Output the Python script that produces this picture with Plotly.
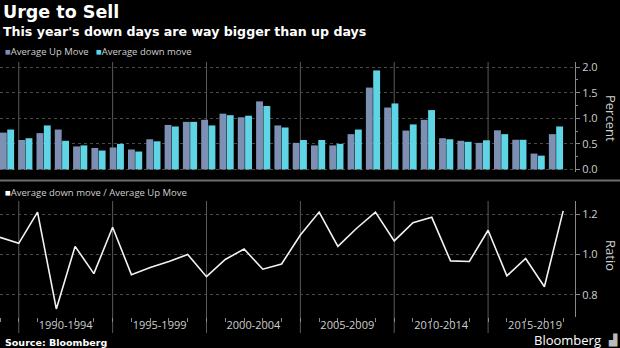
import plotly.graph_objects as go

years = list(range(1989, 2020))
up_move = [0.72, 0.575, 0.71, 0.78, 0.45, 0.42, 0.43, 0.39, 0.59, 0.87, 0.93,
           0.97, 1.09, 1.02, 1.33, 0.86, 0.52, 0.47, 0.47, 0.69, 1.60,
           1.21, 0.76, 0.97, 0.61, 0.56, 0.52, 0.765, 0.58, 0.31, 0.69]
down_move = [0.78, 0.61, 0.86, 0.56, 0.47, 0.37, 0.50, 0.35, 0.55, 0.84, 0.93,
             0.86, 1.06, 1.05, 1.24, 0.82, 0.575, 0.575, 0.50, 0.78, 1.935,
             1.29, 0.88, 1.16, 0.59, 0.54, 0.57, 0.69, 0.58, 0.27, 0.84]
ratio = [1.085, 1.055, 1.21, 0.73, 1.04, 0.905, 1.135, 0.90, 0.935, 0.965, 1.0,
         0.89, 0.975, 1.027, 0.927, 0.953, 1.096, 1.21, 1.04, 1.13, 1.21,
         1.067, 1.157, 1.184, 0.968, 0.965, 1.12, 0.894, 0.98, 0.84, 1.216]
group_bounds = [1990, 1995, 2000, 2005, 2010, 2015]
group_labels = ["1990-1994", "1995-1999", "2000-2004", "2005-2009", "2010-2014", "2015-2019"]

UP_C = "#7d8fb3"
DOWN_C = "#5ed4e4"
FONT = "Open Sans"
TFONT = "DejaVu Sans"

W, H = 620, 348
ML, MR, MT, MB = 0, 45, 62, 31
PW, PH = W - ML - MR, H - MT - MB


def py(pix):  # pixel y -> paper y
    return (H - MB - pix) / PH


def px(pix):  # pixel x -> paper x
    return (pix - ML) / PW


fig = go.Figure()
fig.add_trace(go.Bar(x=years, y=up_move, name="Average Up Move", marker_color=UP_C,
                     marker_line_width=0, xaxis="x", yaxis="y", showlegend=False))
fig.add_trace(go.Bar(x=years, y=down_move, name="Average down move", marker_color=DOWN_C,
                     marker_line_width=0, xaxis="x", yaxis="y", showlegend=False))
fig.add_trace(go.Scatter(x=years, y=ratio, mode="lines", line=dict(color="#f2f2f2", width=1.6),
                         xaxis="x2", yaxis="y2", showlegend=False))
# invisible trace to carry the group label axis
fig.add_trace(go.Scatter(x=[g + 2.5 for g in group_bounds], y=[None] * len(group_bounds),
                         xaxis="x3", yaxis="y2", showlegend=False, hoverinfo="skip"))

top_dom = [py(172), 1.0]
bot_dom = [0.0, py(201)]

shapes = []
for g in group_bounds:
    shapes.append(dict(type="line", xref="x2", yref="paper", x0=g, x1=g, y0=py(333), y1=py(201),
                       line=dict(color="#5a5a5a", width=1), layer="below"))
    shapes.append(dict(type="line", xref="x2", yref="paper", x0=g, x1=g, y0=py(170), y1=py(62),
                       line=dict(color="#5a5a5a", width=1), layer="below"))
shapes.append(dict(type="line", xref="paper", yref="paper", x0=px(0), x1=px(W), y0=py(180.5), y1=py(180.5),
                   line=dict(color="#6e6e6e", width=2)))

grid = dict(showgrid=True, gridcolor="#4a4a4a", griddash="dot", gridwidth=1)
yfont = dict(family=FONT, size=11, color="#cfcfcf")

fig.update_layout(
    width=W, height=H,
    margin=dict(l=ML, r=MR, t=MT, b=MB),
    paper_bgcolor="black", plot_bgcolor="black",
    barmode="group", bargap=0.2, bargroupgap=0.06,
    font=dict(family=FONT, color="#cfcfcf"),
    xaxis=dict(domain=[0, 1], anchor="y", range=[1988.617, 2020.04], showgrid=False,
               showticklabels=False, ticks="", zeroline=False),
    yaxis=dict(domain=top_dom, anchor="x", side="right", range=[-0.05, 2.1],
               tickvals=[0, 0.5, 1.0, 1.5, 2.0], tickformat=".1f", ticks="outside", ticklen=4,
               tickcolor="#8a8a8a", showline=True, linecolor="#8a8a8a", zeroline=False,
               tickfont=yfont, minor=dict(ticks="outside", ticklen=2, dtick=0.25, tickcolor="#8a8a8a", showgrid=False),
               **grid),
    xaxis2=dict(domain=[0, 1], anchor="y2", range=[1989, 2019.63], showgrid=False, zeroline=False,
                tickvals=years, ticktext=[""] * len(years), ticks="outside", ticklen=4,
                tickcolor="#8a8a8a", showline=False),
    xaxis3=dict(domain=[0, 1], anchor="y2", overlaying="x2", range=[1989, 2019.63], showgrid=False,
                zeroline=False, tickvals=[g + 2.5 for g in group_bounds], ticktext=group_labels,
                ticks="", side="bottom", tickfont=dict(family=FONT, size=11, color="#cfcfcf")),
    yaxis2=dict(domain=bot_dom, anchor="x2", side="right", range=[0.69, 1.265],
                tickvals=[0.8, 1.0, 1.2], tickformat=".1f", ticks="outside", ticklen=4,
                tickcolor="#8a8a8a", showline=True, linecolor="#8a8a8a", zeroline=False,
                tickfont=yfont, **grid),
    shapes=shapes,
)

ann = [
    dict(text="<b>Urge to Sell</b>", x=px(1), y=py(0), xanchor="left", yanchor="top",
         font=dict(family=TFONT, size=17.5, color="white")),
    dict(text="<b>This year's down days are way bigger than up days</b>", x=px(1), y=py(22),
         xanchor="left", yanchor="top", font=dict(family=TFONT, size=12.6, color="white")),
    dict(text=f'<span style="color:{UP_C}">■</span>Average Up Move   '
              f'<span style="color:{DOWN_C}">■</span>Average down move',
         x=px(3), y=py(52), xanchor="left", yanchor="middle",
         font=dict(family=FONT, size=9.5, color="#cfcfcf")),
    dict(text='<span style="color:#ffffff">■</span>Average down move / Average Up Move',
         x=px(3), y=py(192), xanchor="left", yanchor="middle",
         font=dict(family=FONT, size=9.5, color="#cfcfcf")),
    dict(text="Percent", x=px(611), y=py(118), xanchor="center", yanchor="middle", textangle=90,
         font=dict(family=FONT, size=13, color="#cfcfcf")),
    dict(text="Ratio", x=px(611), y=py(255), xanchor="center", yanchor="middle", textangle=90,
         font=dict(family=FONT, size=13, color="#cfcfcf")),
    dict(text="<b>Source: Bloomberg</b>", x=px(3), y=py(342), xanchor="left", yanchor="middle",
         font=dict(family=TFONT, size=9.5, color="white")),
    dict(text="Bloomberg", x=px(603), y=py(340), xanchor="right", yanchor="middle",
         font=dict(family=FONT, size=13, color="white")),
    dict(text="▟", x=px(606), y=py(340), xanchor="left", yanchor="middle",
         font=dict(family="DejaVu Sans", size=11, color="#bbbbbb")),
]
for a in ann:
    a.update(xref="paper", yref="paper", showarrow=False)
fig.update_layout(annotations=ann)

fig.write_html("out.html")
